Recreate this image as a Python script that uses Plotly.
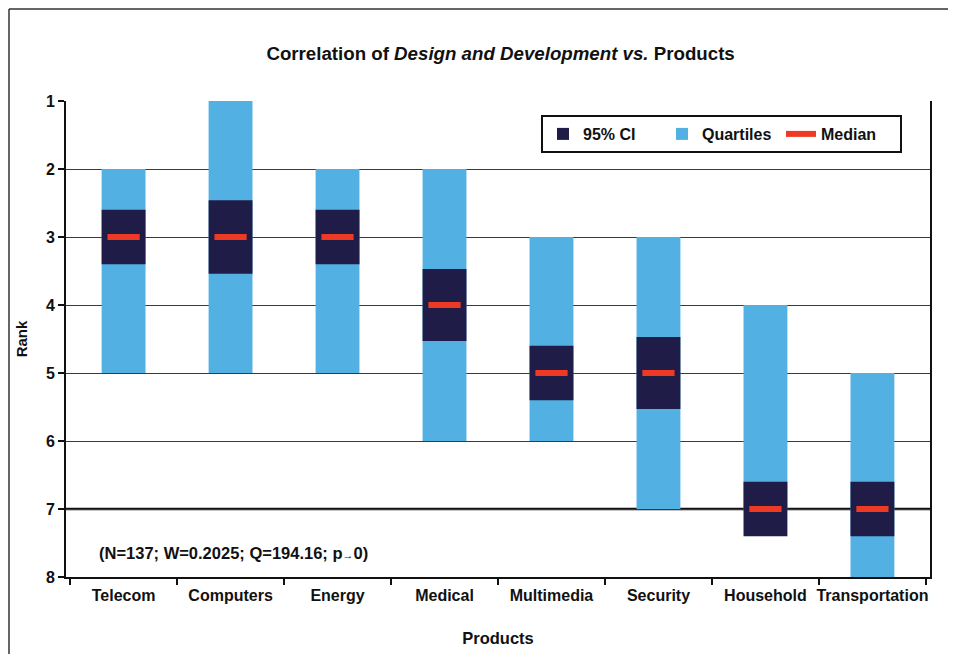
import plotly.graph_objects as go

products = ["Telecom", "Computers", "Energy", "Medical", "Multimedia", "Security", "Household", "Transportation"]
q_low = [2, 1, 2, 2, 3, 3, 4, 5]
q_high = [5, 5, 5, 6, 6, 7, 7, 8]
ci_low = [2.6, 2.46, 2.6, 3.47, 4.6, 4.47, 6.6, 6.6]
ci_high = [3.4, 3.54, 3.4, 4.53, 5.4, 5.53, 7.4, 7.4]
median = [3, 3, 3, 4, 5, 5, 7, 7]
rank_ticks = [1, 2, 3, 4, 5, 6, 7, 8]

DARK = "#1f1c47"
BLUE = "#53b0e3"
RED = "#ee3a24"
FONT = "Liberation Sans, Arial, sans-serif"

W, H = 956, 654
L, T, PW, PH = 58, 93, 864, 476

fig = go.Figure()
fig.add_trace(go.Bar(
    x=products, base=q_low, y=[h - l for h, l in zip(q_high, q_low)],
    width=0.41, marker=dict(color=BLUE, line=dict(width=0)),
    name="<b>Quartiles</b>", legendrank=2,
))
fig.add_trace(go.Bar(
    x=products, base=ci_low, y=[h - l for h, l in zip(ci_high, ci_low)],
    width=0.41, marker=dict(color=DARK, line=dict(width=0)),
    name="<b>95% CI</b>", legendrank=1,
))
fig.add_trace(go.Scatter(
    x=products, y=median, mode="markers",
    marker=dict(symbol="line-ew", size=23, line=dict(color=RED, width=6)),
    showlegend=False, name="Median",
))
fig.add_trace(go.Scatter(
    x=[None], y=[None], mode="lines", line=dict(color=RED, width=6),
    name="<b>Median</b>", legendrank=3,
))

fig.update_layout(
    width=W, height=H,
    margin=dict(l=L, r=W - L - PW, t=T, b=H - T - PH, autoexpand=False),
    paper_bgcolor="white", plot_bgcolor="white",
    barmode="overlay",
    font=dict(family=FONT, color="#111", size=15),
    title=dict(
        text="<b>Correlation of <i>Design and Development</i> <i>vs.</i> Products</b>",
        xref="paper", x=0.503, xanchor="center", y=1 - 45 / H, yanchor="middle",
        font=dict(size=18.7, family=FONT, color="#111"),
    ),
    legend=dict(
        orientation="h", x=(541 - 8 - L) / PW, y=1 + (T - (115 - 8)) / PH,
        xanchor="left", yanchor="top",
        bordercolor="#111", borderwidth=2, bgcolor="white",
        font=dict(size=16, family=FONT, color="#111"),
        entrywidth=74, itemwidth=30,
    ),
    showlegend=True,
)
fig.update_xaxes(
    type="category", tickson="boundaries", ticks="outside", ticklen=6, tickwidth=2,
    tickcolor="#111", showline=True, linecolor="#111", linewidth=2, mirror=False,
    showgrid=False, tickangle=0, tickfont=dict(size=16, family=FONT, color="#111"),
    tickprefix="<b>", ticksuffix="</b>", ticklabelstandoff=3,
    title=dict(text="<b>Products</b>", font=dict(size=16.5, family=FONT), standoff=29),
    automargin=False,
)
fig.update_yaxes(
    range=[8, 1], tickmode="array", tickvals=rank_ticks,
    ticktext=[f"<b>{t}</b>" for t in rank_ticks],
    ticks="outside", ticklen=6, tickwidth=2, tickcolor="#111",
    showline=True, linecolor="#111", linewidth=2, mirror=True,
    showgrid=True, gridcolor="#3a3a3a", gridwidth=1.4, zeroline=False,
    tickfont=dict(size=16, family=FONT, color="#111"),
    title=dict(text="<b>Rank</b>", font=dict(size=15, family=FONT), standoff=15),
    automargin=False,
)

fig.add_annotation(
    xref="paper", yref="y", x=(97 - 8 - L) / PW, y=7.65, xanchor="left", yanchor="middle",
    text="<b>(N=137; W=0.2025; Q=194.16; p</b><span style='font-size:11px'>→</span><b>0)</b>",
    showarrow=False, font=dict(size=16.5, family=FONT, color="#111"),
)
# heavier rule at rank 7
fig.add_shape(
    type="line", xref="paper", yref="y", x0=0, x1=1, y0=7, y1=7,
    line=dict(color="#111", width=2.4), layer="below",
)
# outer frame (top and left edges)
fig.add_shape(
    type="line", xref="paper", yref="paper",
    x0=(1 - L) / PW, x1=1.3, y0=1 + (T - 1) / PH, y1=1 + (T - 1) / PH,
    line=dict(color="#333", width=1.5), layer="below",
)
fig.add_shape(
    type="line", xref="paper", yref="paper",
    x0=(1 - L) / PW, x1=(1 - L) / PW, y0=-0.4, y1=1 + (T - 1) / PH,
    line=dict(color="#333", width=1.5), layer="below",
)

fig.write_html("out.html")
